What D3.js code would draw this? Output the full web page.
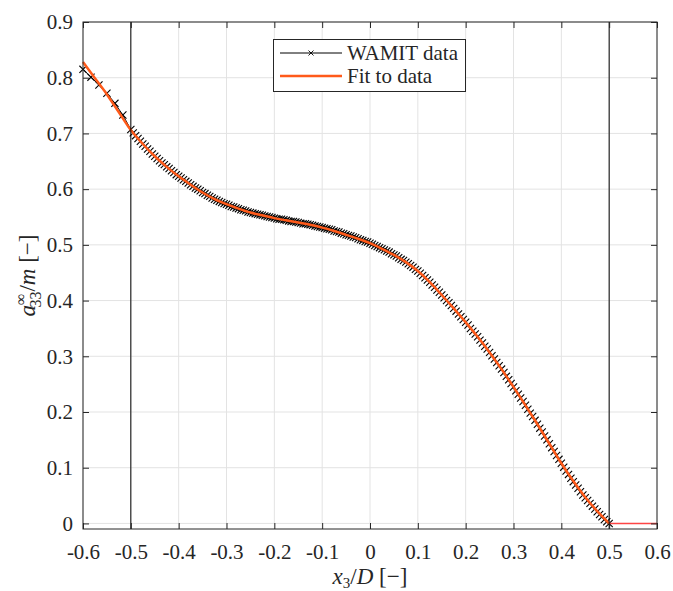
<!DOCTYPE html>
<html>
<head>
<meta charset="utf-8">
<script src="https://cdn.jsdelivr.net/npm/d3@7"></script>
<style>
  body { margin: 0; background: #fff; }
  svg text { font-family: "Liberation Serif", "DejaVu Serif", serif; fill: #262626; }
</style>
</head>
<body>
<div id="chart"></div>
<script>
// ---- data ----
const xTicks = [-0.6, -0.5, -0.4, -0.3, -0.2, -0.1, 0, 0.1, 0.2, 0.3, 0.4, 0.5, 0.6];
const yTicks = [0, 0.1, 0.2, 0.3, 0.4, 0.5, 0.6, 0.7, 0.8, 0.9];
const bodyEdges = [-0.5, 0.5];

// WAMIT points, sparse part before the body edge
const wamitHeadX = [-0.6, -0.5833, -0.5667, -0.55, -0.5333, -0.5167];
const wamitHeadY = [0.815, 0.801, 0.787, 0.772, 0.754, 0.733];

// WAMIT points, dense part from -0.5 to 0.5 every 0.005
const wamitFrom = -0.5, wamitStep = 0.005;
const wamitY = [
  0.707, 0.701, 0.696, 0.691, 0.686, 0.681, 0.677, 0.672, 0.668, 0.663,
  0.659, 0.655, 0.651, 0.647, 0.644, 0.640, 0.637, 0.633, 0.630, 0.626,
  0.623, 0.620, 0.617, 0.614, 0.611, 0.608, 0.605, 0.602, 0.600, 0.597,
  0.594, 0.592, 0.589, 0.587, 0.584, 0.582, 0.580, 0.578, 0.576, 0.574,
  0.573, 0.571, 0.569, 0.568, 0.566, 0.565, 0.563, 0.562, 0.561, 0.559,
  0.558, 0.557, 0.556, 0.555, 0.554, 0.553, 0.552, 0.551, 0.550, 0.549,
  0.548, 0.547, 0.546, 0.546, 0.545, 0.544, 0.543, 0.542, 0.542, 0.541,
  0.540, 0.539, 0.538, 0.538, 0.537, 0.536, 0.535, 0.534, 0.533, 0.532,
  0.531, 0.530, 0.529, 0.528, 0.527, 0.525, 0.524, 0.523, 0.521, 0.520,
  0.518, 0.517, 0.516, 0.514, 0.513, 0.511, 0.509, 0.508, 0.506, 0.505,
  0.503, 0.501, 0.499, 0.497, 0.495, 0.493, 0.491, 0.489, 0.487, 0.484,
  0.482, 0.480, 0.477, 0.474, 0.472, 0.469, 0.466, 0.463, 0.460, 0.456,
  0.453, 0.449, 0.445, 0.441, 0.437, 0.433, 0.428, 0.424, 0.419, 0.415,
  0.410, 0.405, 0.400, 0.396, 0.391, 0.386, 0.381, 0.376, 0.371, 0.366,
  0.361, 0.356, 0.350, 0.345, 0.340, 0.335, 0.329, 0.324, 0.318, 0.313,
  0.307, 0.301, 0.295, 0.289, 0.283, 0.277, 0.271, 0.264, 0.258, 0.251,
  0.245, 0.238, 0.232, 0.225, 0.219, 0.212, 0.205, 0.198, 0.192, 0.185,
  0.178, 0.171, 0.164, 0.157, 0.150, 0.143, 0.136, 0.129, 0.122, 0.115,
  0.108, 0.101, 0.094, 0.088, 0.081, 0.075, 0.069, 0.063, 0.057, 0.051,
  0.046, 0.041, 0.036, 0.031, 0.026, 0.021, 0.016, 0.012, 0.007, 0.003,
  0.000
];

// fitted curve
const fitX = [-0.6, -0.575, -0.55, -0.525, -0.5, -0.475, -0.45, -0.425, -0.4, -0.375,
  -0.35, -0.325, -0.3, -0.275, -0.25, -0.225, -0.2, -0.175, -0.15, -0.125,
  -0.1, -0.075, -0.05, -0.025, 0, 0.025, 0.05, 0.075, 0.1, 0.125,
  0.15, 0.175, 0.2, 0.225, 0.25, 0.275, 0.3, 0.325, 0.35, 0.375,
  0.4, 0.425, 0.45, 0.475, 0.5];
const fitY = [0.828, 0.799, 0.770, 0.738, 0.706, 0.681, 0.659, 0.640, 0.623, 0.608,
  0.594, 0.582, 0.573, 0.565, 0.558, 0.553, 0.548, 0.544, 0.540, 0.536,
  0.531, 0.525, 0.518, 0.511, 0.503, 0.493, 0.482, 0.469, 0.453, 0.433,
  0.410, 0.386, 0.361, 0.335, 0.307, 0.277, 0.245, 0.212, 0.178, 0.143,
  0.108, 0.076, 0.047, 0.022, 0.000];
const tailX = [0.5, 0.6];
const tailY = [0, 0];

const legendLabels = ["WAMIT data", "Fit to data"];

// ---- layout ----
const W = 673, H = 591;
const margin = {top: 22, right: 16, bottom: 62, left: 83};
const width = W - margin.left - margin.right,
      height = H - margin.top - margin.bottom;

const serif = '"Liberation Serif", "DejaVu Serif", serif';
const orange = "#ff5a1a";

const svg = d3.select("#chart").append("svg")
  .attr("width", W).attr("height", H);
const g = svg.append("g")
  .attr("transform", "translate(" + margin.left + "," + margin.top + ")");

const x = d3.scaleLinear().domain([-0.6, 0.6]).range([0, width]);
const y = d3.scaleLinear().domain([-0.01, 0.9]).range([height, 0]);

// grid
g.append("g").selectAll("line").data(xTicks).join("line")
  .attr("x1", d => x(d)).attr("x2", d => x(d))
  .attr("y1", 0).attr("y2", height)
  .attr("stroke", "#e3e3e3").attr("stroke-width", 1);
g.append("g").selectAll("line").data(yTicks).join("line")
  .attr("x1", 0).attr("x2", width)
  .attr("y1", d => y(d)).attr("y2", d => y(d))
  .attr("stroke", "#e3e3e3").attr("stroke-width", 1);

// WAMIT data
let wamit = wamitHeadX.map((d, i) => ({x: d, y: wamitHeadY[i]}));
wamitY.forEach((v, i) => wamit.push({x: wamitFrom + i * wamitStep, y: v}));

const line = d3.line().x(d => x(d.x)).y(d => y(d.y));

g.append("path").datum(wamit)
  .attr("d", line)
  .attr("fill", "none").attr("stroke", "#000").attr("stroke-width", 1);

const m = 3.6;
g.append("g").selectAll("path").data(wamit).join("path")
  .attr("transform", d => "translate(" + x(d.x) + "," + y(d.y) + ")")
  .attr("d", "M" + (-m) + "," + (-m) + "L" + m + "," + m + "M" + (-m) + "," + m + "L" + m + "," + (-m))
  .attr("fill", "none").attr("stroke", "#000").attr("stroke-width", 1.1);

// fit
const fit = fitX.map((d, i) => ({x: d, y: fitY[i]}));
g.append("path").datum(fit)
  .attr("d", line.curve(d3.curveMonotoneX))
  .attr("fill", "none").attr("stroke", orange).attr("stroke-width", 2.5);

const tail = tailX.map((d, i) => ({x: d, y: tailY[i]}));
g.append("path").datum(tail)
  .attr("d", d3.line().x(d => x(d.x)).y(d => y(d.y)))
  .attr("fill", "none").attr("stroke", "#ff4545").attr("stroke-width", 1.5);

// body edges
g.append("g").selectAll("line").data(bodyEdges).join("line")
  .attr("x1", d => x(d)).attr("x2", d => x(d))
  .attr("y1", 0).attr("y2", height)
  .attr("stroke", "#000").attr("stroke-width", 1);

// axes
const fmt = d => d === 0 ? "0" : d3.format(".1f")(d).replace("\u2212", "-");
const styleAxis = sel => {
  sel.attr("font-family", serif).attr("font-size", 21);
  sel.select(".domain").remove();
  sel.selectAll("line").attr("stroke", "#262626");
  sel.selectAll("text").style("font-family", serif).style("font-size", "21px").attr("fill", "#262626");
};

g.append("g")
  .attr("transform", "translate(0," + height + ")")
  .call(d3.axisBottom(x).tickValues(xTicks).tickFormat(fmt).tickSize(-6).tickPadding(15))
  .call(styleAxis);
g.append("g")
  .call(d3.axisTop(x).tickValues(xTicks).tickFormat("").tickSize(-6))
  .call(styleAxis);
g.append("g")
  .call(d3.axisLeft(y).tickValues(yTicks).tickFormat(fmt).tickSize(-6).tickPadding(10))
  .call(styleAxis);
g.append("g")
  .attr("transform", "translate(" + width + ",0)")
  .call(d3.axisRight(y).tickValues(yTicks).tickFormat("").tickSize(-6))
  .call(styleAxis);

g.append("rect")
  .attr("width", width).attr("height", height)
  .attr("fill", "none").attr("stroke", "#262626").attr("stroke-width", 1);

// axis labels
const xl = svg.append("text")
  .attr("x", margin.left + width / 2).attr("y", 584)
  .attr("text-anchor", "middle").style("font-size", "23px");
xl.append("tspan").attr("font-style", "italic").text("x");
xl.append("tspan").style("font-size", "15px").attr("dy", 4).text("3");
xl.append("tspan").attr("dy", -4).text("/");
xl.append("tspan").attr("font-style", "italic").text("D");
xl.append("tspan").text(" [\u2212]");

const yl = svg.append("text")
  .attr("transform", "translate(35," + (margin.top + height / 2) + ") rotate(-90)")
  .attr("text-anchor", "middle").style("font-size", "23px");
yl.append("tspan").attr("font-style", "italic").text("a");
yl.append("tspan").style("font-size", "16px").attr("dy", -9).text("\u221e");
yl.append("tspan").style("font-size", "16px").attr("dx", -14).attr("dy", 15).text("33");
yl.append("tspan").attr("dy", -6).text("/");
yl.append("tspan").attr("font-style", "italic").text("m");
yl.append("tspan").text(" [\u2212]");

// legend
const lg = svg.append("g");
lg.append("rect")
  .attr("x", 273.5).attr("y", 39.5).attr("width", 192).attr("height", 52)
  .attr("fill", "#fff").attr("stroke", "#262626").attr("stroke-width", 1);
const rows = [53, 76];
lg.append("line").attr("x1", 280).attr("x2", 342).attr("y1", rows[0]).attr("y2", rows[0])
  .attr("stroke", "#000").attr("stroke-width", 1);
lg.append("path")
  .attr("transform", "translate(311," + rows[0] + ")")
  .attr("d", "M-2.5,-2.5L2.5,2.5M-2.5,2.5L2.5,-2.5")
  .attr("stroke", "#000").attr("stroke-width", 0.9);
lg.append("line").attr("x1", 280).attr("x2", 342).attr("y1", rows[1]).attr("y2", rows[1])
  .attr("stroke", orange).attr("stroke-width", 2.5);
lg.selectAll("text.lab").data(legendLabels).join("text")
  .attr("class", "lab")
  .attr("x", 347).attr("y", (d, i) => rows[i]).attr("dy", "0.35em")
  .style("font-size", "21px").text(d => d);
</script>
</body>
</html>
